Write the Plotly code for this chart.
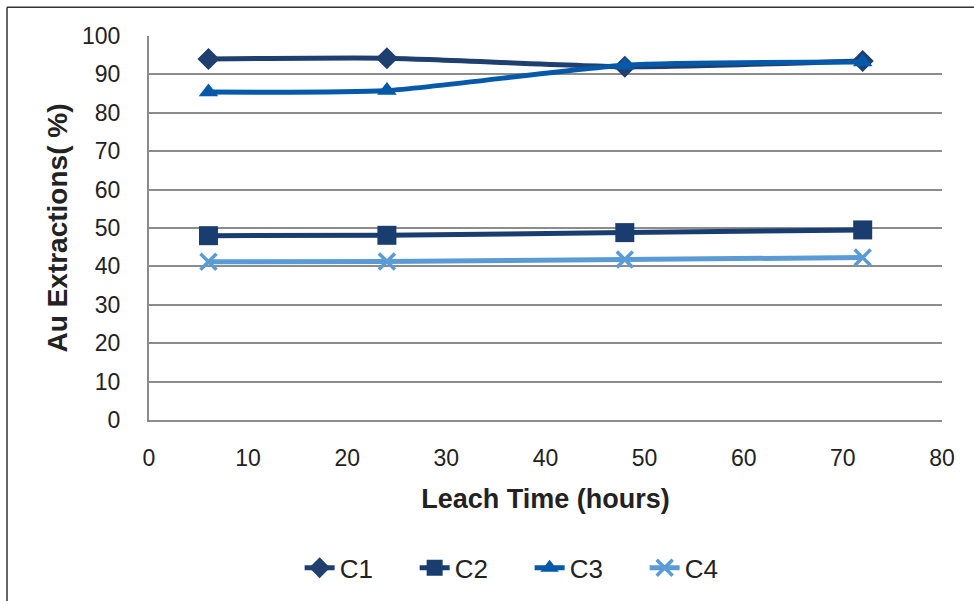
import plotly.graph_objects as go

hours = [6, 24, 48, 72]
c1 = [94.0, 94.2, 92.0, 93.5]
c2 = [48.0, 48.1, 48.8, 49.5]
c3 = [85.4, 85.8, 92.4, 93.2]
c4 = [41.2, 41.3, 41.8, 42.3]
names = ["C1", "C2", "C3", "C4"]
colors = ["#1F3F6E", "#1A3D70", "#0659A8", "#5B9BD5"]
symbols = ["diamond", "square", "triangle-up", "x-thin"]
sizes = [17, 19, 17, 16]

fig = go.Figure()
for name, vals, col, sym, sz in zip(names, [c1, c2, c3, c4], colors, symbols, sizes):
    marker = dict(symbol=sym, size=sz, color=col)
    if sym == "x-thin":
        marker["line"] = dict(color=col, width=3.5)
    fig.add_trace(go.Scatter(
        x=hours, y=vals, name=name, mode="lines+markers",
        line=dict(color=col, width=5, shape="spline", smoothing=0.6),
        marker=marker,
    ))

font = "Liberation Sans, Arial, sans-serif"
fig.update_layout(
    width=974, height=604,
    margin=dict(l=149, r=32, t=36, b=182),
    plot_bgcolor="white", paper_bgcolor="white",
    font=dict(family=font, size=23, color="#222222"),
    showlegend=True,
    legend=dict(orientation="h", x=0.48, xanchor="center", y=-0.385, yanchor="middle",
                font=dict(size=26, color="#222222"), itemwidth=30, tracegroupgap=0,
                entrywidth=70, entrywidthmode="pixels"),
    xaxis=dict(range=[0, 80], dtick=10, showgrid=False, showline=True,
               linecolor="#8c8c8c", linewidth=2, ticks="", zeroline=False,
               ticklabelstandoff=16,
               title=dict(text="<b>Leach Time (hours)</b>", font=dict(size=27), standoff=20),
               tickfont=dict(size=23)),
    yaxis=dict(range=[0, 100], dtick=10, showgrid=True, gridcolor="#8c8c8c", gridwidth=2,
               showline=True, linecolor="#8c8c8c", linewidth=2, ticks="", zeroline=False,
               ticklabelstandoff=22,
               title=dict(text="<b>Au Extractions( %)</b>", font=dict(size=28), standoff=6),
               tickfont=dict(size=23)),
    shapes=[
        dict(type="line", xref="paper", yref="paper",
             x0=(7 - 149) / 793, x1=(7 - 149) / 793, y0=(422 - 604) / 386, y1=(422 - 7) / 386,
             line=dict(color="#333333", width=1.5)),
        dict(type="line", xref="paper", yref="paper",
             x0=(7 - 149) / 793, x1=(974 - 149) / 793, y0=(422 - 7) / 386, y1=(422 - 7) / 386,
             line=dict(color="#333333", width=1.5)),
    ],
)

fig.write_html("out.html")
